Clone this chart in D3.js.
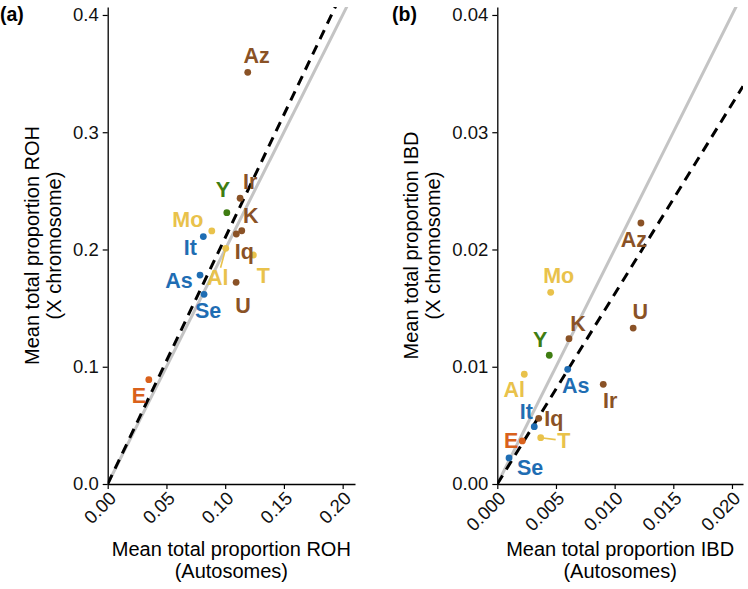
<!DOCTYPE html>
<html><head><meta charset="utf-8">
<script src="https://cdn.jsdelivr.net/npm/d3@7"></script>
<style>
html,body{margin:0;padding:0;background:#fff;}
svg{display:block;font-family:"Liberation Sans",Arial,sans-serif;}
</style></head>
<body>
<svg id="chart" width="748" height="589"></svg>
<script>
// ---- data ----
const populations = ["Az","Ir","K","Iq","U","Mo","Al","T","It","As","Se","Y","E"];
const groupOf     = ["brown","brown","brown","brown","brown","yellow","yellow","yellow","blue","blue","blue","green","orange"];
const rohAutosomes = [0.1192,0.1127,0.1141,0.1095,0.1093,0.0886,0.1005,0.1240,0.0814,0.0786,0.0820,0.1014,0.0350];
const rohXchrom    = [0.3511,0.2437,0.2160,0.2132,0.1720,0.2158,0.2010,0.1953,0.2110,0.1782,0.1618,0.2314,0.0890];
const ibdAutosomes = [0.01224,0.00903,0.00611,0.00353,0.01158,0.00455,0.00230,0.00370,0.00315,0.00600,0.00100,0.00443,0.00213];
const ibdXchrom    = [0.02226,0.00850,0.01239,0.00560,0.01330,0.01635,0.00936,0.00395,0.00489,0.00978,0.00222,0.01098,0.00367];
const rohXTicks = [0,0.05,0.10,0.15,0.20];
const rohYTicks = [0,0.1,0.2,0.3,0.4];
const ibdXTicks = [0,0.005,0.010,0.015,0.020];
const ibdYTicks = [0,0.01,0.02,0.03,0.04];
const expectedSlope = 2;          // grey solid reference line
const rohFitSlope = 2.1;          // dashed line, panel a
const ibdFitSlope = 1.62;         // dashed line, panel b

// ---- style / layout ----
const colors = {brown:"#8a5226", yellow:"#e9c24b", blue:"#1f6db3", green:"#3f7d12", orange:"#d9611c"};
// label nudges (px) per population, per panel
const nudgeA = {Az:[9,-16],Ir:[10,-16],K:[9,-15],Iq:[8,18],U:[7,24],Mo:[-24,-11],Al:[-8,30],T:[10,21],It:[-13,11],As:[-21,6],Se:[4,17],Y:[-4,-23],E:[-10,16]};
const nudgeB = {Az:[-7,17],Ir:[7,17],K:[9,-15],Iq:[15,1],U:[7,-16],Mo:[8,-16],Al:[-10,16],T:[23,3],It:[-8,-15],As:[8,17],Se:[21,10],Y:[-9,-15],E:[-11,0]};
const leadersA = {Al:true};
const leadersB = {T:true};

const svg = d3.select("#chart");

function panel(opts){
  const {x0,x1,xmax,y0,y1,ymax,xv,yv,xTicks,yTicks,xFmt,yFmt,fit,nudge,leaders,tag,tagX,xTitle,yTitle,yTitleX} = opts;
  const x = d3.scaleLinear().domain([0,xmax]).range([x0,x1]);
  const y = d3.scaleLinear().domain([0,ymax]).range([y0,y1]);
  const g = svg.append("g");
  const clipId = "clip"+tag.replace(/\W/g,"");
  svg.append("clipPath").attr("id",clipId).append("rect")
    .attr("x",x0).attr("y",y1).attr("width",x1-x0).attr("height",y0-y1);
  const lines = g.append("g").attr("clip-path",`url(#${clipId})`);
  lines.append("line").attr("x1",x(0)).attr("y1",y(0)).attr("x2",x(xmax)).attr("y2",y(expectedSlope*xmax))
    .attr("stroke","#c4c4c4").attr("stroke-width",3);
  lines.append("line").attr("x1",x(0)).attr("y1",y(0)).attr("x2",x(xmax)).attr("y2",y(fit*xmax))
    .attr("stroke","#000").attr("stroke-width",3).attr("stroke-dasharray","10,7");

  // axes
  const xa = g.append("g").attr("transform",`translate(0,${y0})`)
    .call(d3.axisBottom(x).tickValues(xTicks).tickFormat(xFmt).tickSizeOuter(0).tickSizeInner(5));
  xa.select(".domain").attr("stroke","#000").attr("stroke-width",1.3);
  xa.selectAll(".tick line").attr("stroke","#000").attr("stroke-width",1.2);
  xa.selectAll(".tick text").attr("font-size",18.5).attr("fill","#111")
    .attr("text-anchor","end").attr("dy",null).attr("y",null)
    .attr("transform","translate(9,15.5) rotate(-45)");
  const ya = g.append("g").attr("transform",`translate(${x0},0)`)
    .call(d3.axisLeft(y).tickValues(yTicks).tickFormat(yFmt).tickSizeOuter(0).tickSizeInner(5));
  ya.select(".domain").attr("stroke","#000").attr("stroke-width",1.3);
  ya.selectAll(".tick line").attr("stroke","#000").attr("stroke-width",1.2);
  ya.selectAll(".tick text").attr("font-size",18.5).attr("fill","#111").attr("x",-9);

  // leaders
  const data = populations.map((p,i)=>({p, g:groupOf[i], xv:xv[i], yv:yv[i]}));
  data.filter(d=>leaders[d.p]).forEach(d=>{
    const n = nudge[d.p];
    const sx = x(d.xv), sy = y(d.yv);
    const ex = sx + n[0]*0.65, ey = sy + n[1]*0.65;
    g.append("line").attr("x1",sx).attr("y1",sy).attr("x2",ex).attr("y2",ey)
      .attr("stroke",colors[d.g]).attr("stroke-width",1.6);
  });
  // points
  g.selectAll("circle.pt").data(data).join("circle").attr("class","pt")
    .attr("cx",d=>x(d.xv)).attr("cy",d=>y(d.yv)).attr("r",3.4)
    .attr("fill",d=>colors[d.g]);
  // labels
  g.selectAll("text.lab").data(data).join("text").attr("class","lab")
    .attr("x",d=>x(d.xv)+nudge[d.p][0]).attr("y",d=>y(d.yv)+nudge[d.p][1])
    .attr("text-anchor","middle").attr("dominant-baseline","central")
    .attr("font-size",21.5).attr("font-weight","bold").attr("fill",d=>colors[d.g])
    .text(d=>d.p);

  // titles
  const cx = (x0+x1)/2;
  const xt = g.append("text").attr("text-anchor","middle").attr("font-size",20).attr("fill","#000");
  xt.append("tspan").attr("x",cx).attr("y",556).text(xTitle[0]);
  xt.append("tspan").attr("x",cx).attr("y",578).text(xTitle[1]);
  const cy = (y0+y1)/2;
  const yt = g.append("text").attr("text-anchor","middle").attr("font-size",20).attr("fill","#000")
    .attr("transform",`translate(${yTitleX},${cy}) rotate(-90)`);
  yt.append("tspan").attr("x",0).attr("y",0).text(yTitle[0]);
  yt.append("tspan").attr("x",0).attr("y",22).text(yTitle[1]);
  g.append("text").attr("x",tagX).attr("y",21).attr("font-size",19.5).attr("font-weight","bold").text(tag);
}

panel({x0:107.7,x1:355,xmax:0.2105,y0:484,y1:7,ymax:0.4068,
  xv:rohAutosomes,yv:rohXchrom,xTicks:rohXTicks,yTicks:rohYTicks,
  xFmt:d3.format(".2f"),yFmt:d3.format(".1f"),fit:rohFitSlope,nudge:nudgeA,leaders:leadersA,
  tag:"(a)",tagX:0,xTitle:["Mean total proportion ROH","(Autosomes)"],
  yTitle:["Mean total proportion ROH","(X chromosome)"],yTitleX:39});

panel({x0:497.3,x1:743,xmax:0.02094,y0:484,y1:7,ymax:0.04068,
  xv:ibdAutosomes,yv:ibdXchrom,xTicks:ibdXTicks,yTicks:ibdYTicks,
  xFmt:d3.format(".3f"),yFmt:d3.format(".2f"),fit:ibdFitSlope,nudge:nudgeB,leaders:leadersB,
  tag:"(b)",tagX:392,xTitle:["Mean total proportion IBD","(Autosomes)"],
  yTitle:["Mean total proportion IBD","(X chromosome)"],yTitleX:418});
</script>
</body></html>
